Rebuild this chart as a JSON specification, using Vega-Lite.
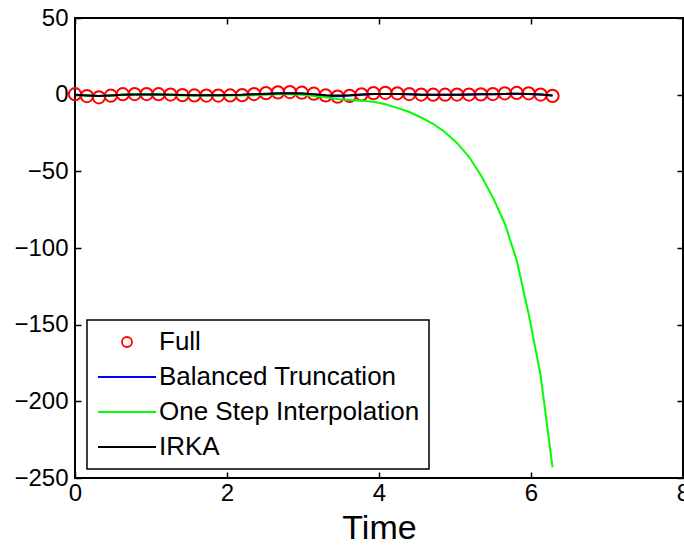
{
  "$schema": "https://vega.github.io/schema/vega-lite/v6.json",
  "width": 608,
  "height": 460,
  "autosize": {"type": "none"},
  "padding": {"left": 75, "top": 18, "right": 1, "bottom": 68},
  "background": "white",
  "title": {"text": "Reduced Model Output 1, Order 10, Step", "font": "Liberation Sans", "fontSize": 26, "fontWeight": "normal", "color": "black", "baseline": "alphabetic", "offset": 20, "frame": "group", "anchor": "middle"},
  "data": {"values": [
    {"t": 0, "Full": 0.3, "Balanced Truncation": 0.0, "One Step Interpolation": 0.0, "IRKA": 0.0},
    {"t": 0.1571, "Full": -0.9, "Balanced Truncation": -0.5, "One Step Interpolation": -0.5, "IRKA": -0.5},
    {"t": 0.3142, "Full": -1.7, "Balanced Truncation": -0.9, "One Step Interpolation": -0.9, "IRKA": -0.9},
    {"t": 0.4712, "Full": -0.7, "Balanced Truncation": -0.5, "One Step Interpolation": -0.5, "IRKA": -0.5},
    {"t": 0.6283, "Full": 0.3, "Balanced Truncation": 0.0, "One Step Interpolation": 0.0, "IRKA": 0.0},
    {"t": 0.7854, "Full": 0.4, "Balanced Truncation": 0.1, "One Step Interpolation": 0.1, "IRKA": 0.1},
    {"t": 0.9425, "Full": 0.4, "Balanced Truncation": 0.1, "One Step Interpolation": 0.1, "IRKA": 0.1},
    {"t": 1.0996, "Full": 0.3, "Balanced Truncation": 0.1, "One Step Interpolation": 0.0, "IRKA": 0.1},
    {"t": 1.2566, "Full": 0.1, "Balanced Truncation": 0.0, "One Step Interpolation": -0.2, "IRKA": 0.0},
    {"t": 1.4137, "Full": -0.3, "Balanced Truncation": -0.2, "One Step Interpolation": -0.5, "IRKA": -0.2},
    {"t": 1.5708, "Full": -0.5, "Balanced Truncation": -0.3, "One Step Interpolation": -0.6, "IRKA": -0.3},
    {"t": 1.7279, "Full": -0.6, "Balanced Truncation": -0.3, "One Step Interpolation": -0.6, "IRKA": -0.3},
    {"t": 1.885, "Full": -0.6, "Balanced Truncation": -0.3, "One Step Interpolation": -0.6, "IRKA": -0.3},
    {"t": 2.042, "Full": -0.5, "Balanced Truncation": -0.2, "One Step Interpolation": -0.6, "IRKA": -0.2},
    {"t": 2.1991, "Full": -0.3, "Balanced Truncation": -0.1, "One Step Interpolation": -0.6, "IRKA": -0.1},
    {"t": 2.3562, "Full": 0.4, "Balanced Truncation": 0.2, "One Step Interpolation": -0.3, "IRKA": 0.2},
    {"t": 2.5133, "Full": 1.0, "Balanced Truncation": 0.6, "One Step Interpolation": 0.0, "IRKA": 0.5},
    {"t": 2.6704, "Full": 1.5, "Balanced Truncation": 0.9, "One Step Interpolation": 0.3, "IRKA": 0.8},
    {"t": 2.8274, "Full": 1.7, "Balanced Truncation": 1.0, "One Step Interpolation": 0.3, "IRKA": 0.9},
    {"t": 2.9845, "Full": 1.3, "Balanced Truncation": 0.7, "One Step Interpolation": -0.1, "IRKA": 0.7},
    {"t": 3.1416, "Full": 0.6, "Balanced Truncation": 0.1, "One Step Interpolation": -0.8, "IRKA": 0.3},
    {"t": 3.2987, "Full": -0.5, "Balanced Truncation": -0.6, "One Step Interpolation": -1.7, "IRKA": -0.3},
    {"t": 3.4558, "Full": -1.3, "Balanced Truncation": -1.0, "One Step Interpolation": -2.8, "IRKA": -0.6},
    {"t": 3.6128, "Full": -0.8, "Balanced Truncation": -0.6, "One Step Interpolation": -3.4, "IRKA": -0.4},
    {"t": 3.7699, "Full": 0.2, "Balanced Truncation": 0.0, "One Step Interpolation": -3.9, "IRKA": 0.1},
    {"t": 3.927, "Full": 1.0, "Balanced Truncation": 0.4, "One Step Interpolation": -4.6, "IRKA": 0.4},
    {"t": 4.0841, "Full": 1.2, "Balanced Truncation": 0.5, "One Step Interpolation": -6.2, "IRKA": 0.5},
    {"t": 4.2412, "Full": 0.9, "Balanced Truncation": 0.4, "One Step Interpolation": -8.6, "IRKA": 0.4},
    {"t": 4.3982, "Full": 0.4, "Balanced Truncation": 0.2, "One Step Interpolation": -11.3, "IRKA": 0.2},
    {"t": 4.5553, "Full": 0.1, "Balanced Truncation": 0.0, "One Step Interpolation": -14.9, "IRKA": 0.0},
    {"t": 4.7124, "Full": 0.0, "Balanced Truncation": 0.0, "One Step Interpolation": -19.0, "IRKA": 0.0},
    {"t": 4.8695, "Full": 0.0, "Balanced Truncation": 0.0, "One Step Interpolation": -24.5, "IRKA": 0.0},
    {"t": 5.0265, "Full": 0.1, "Balanced Truncation": 0.0, "One Step Interpolation": -31.5, "IRKA": 0.0},
    {"t": 5.1836, "Full": 0.1, "Balanced Truncation": 0.1, "One Step Interpolation": -40.5, "IRKA": 0.1},
    {"t": 5.3407, "Full": 0.2, "Balanced Truncation": 0.2, "One Step Interpolation": -52.5, "IRKA": 0.2},
    {"t": 5.4978, "Full": 0.4, "Balanced Truncation": 0.3, "One Step Interpolation": -67.0, "IRKA": 0.3},
    {"t": 5.6549, "Full": 0.9, "Balanced Truncation": 0.5, "One Step Interpolation": -84.0, "IRKA": 0.5},
    {"t": 5.812, "Full": 1.1, "Balanced Truncation": 0.6, "One Step Interpolation": -108.0, "IRKA": 0.6},
    {"t": 5.969, "Full": 0.9, "Balanced Truncation": 0.5, "One Step Interpolation": -143.0, "IRKA": 0.5},
    {"t": 6.1261, "Full": 0.1, "Balanced Truncation": 0.1, "One Step Interpolation": -183.0, "IRKA": 0.1},
    {"t": 6.2832, "Full": -0.8, "Balanced Truncation": -0.5, "One Step Interpolation": -243.0, "IRKA": -0.5}
  ]},
  "transform": [
    {"fold": ["Full", "Balanced Truncation", "One Step Interpolation", "IRKA"], "as": ["series", "value"]}
  ],
  "layer": [
    {
      "transform": [{"filter": "datum.series === 'Full'"}],
      "mark": {"type": "point", "filled": false, "size": 150, "strokeWidth": 2, "opacity": 1},
      "encoding": {
        "x": {"field": "t", "type": "quantitative", "scale": {"domain": [0, 8], "nice": false, "zero": false},
              "axis": {"values": [0, 2, 4, 6, 8], "title": "Time", "tickSize": -6, "labelPadding": 9, "titlePadding": 6, "labelFlush": false}},
        "y": {"field": "value", "type": "quantitative", "scale": {"domain": [-250, 50], "nice": false, "zero": false},
              "axis": {"values": [-250, -200, -150, -100, -50, 0, 50], "title": null, "tickSize": -6, "labelPadding": 13}},
        "color": {"field": "series", "type": "nominal",
                  "scale": {"domain": ["Full", "Balanced Truncation", "One Step Interpolation", "IRKA"], "range": ["#ff0000", "#0000ff", "#00ff00", "#000000"]},
                  "legend": {"title": null}},
        "shape": {"field": "series", "type": "nominal",
                  "scale": {"domain": ["Full", "Balanced Truncation", "One Step Interpolation", "IRKA"], "range": ["circle", "M-5.8,0H5.8", "M-5.8,0H5.8", "M-5.8,0H5.8"]},
                  "legend": {"title": null}}
      }
    },
    {
      "transform": [{"filter": "datum.series === 'Balanced Truncation'"}],
      "mark": {"type": "line", "strokeWidth": 2},
      "encoding": {
        "x": {"field": "t", "type": "quantitative", "axis": null},
        "y": {"field": "value", "type": "quantitative", "axis": null},
        "color": {"field": "series", "type": "nominal", "legend": {"title": null}}
      }
    },
    {
      "transform": [{"filter": "datum.series === 'One Step Interpolation'"}],
      "mark": {"type": "line", "strokeWidth": 2},
      "encoding": {
        "x": {"field": "t", "type": "quantitative", "axis": null},
        "y": {"field": "value", "type": "quantitative", "axis": null},
        "color": {"field": "series", "type": "nominal", "legend": {"title": null}}
      }
    },
    {
      "transform": [{"filter": "datum.series === 'IRKA'"}],
      "mark": {"type": "line", "strokeWidth": 2},
      "encoding": {
        "x": {"field": "t", "type": "quantitative", "axis": null},
        "y": {"field": "value", "type": "quantitative", "axis": null},
        "color": {"field": "series", "type": "nominal", "legend": {"title": null}}
      }
    },
    {
      "transform": [{"filter": "datum.series === 'Full'"}],
      "mark": {"type": "point", "opacity": 0},
      "encoding": {
        "x": {"field": "t", "type": "quantitative",
              "axis": {"orient": "top", "values": [0, 2, 4, 6, 8], "labels": false, "title": null, "tickSize": -6}},
        "y": {"field": "value", "type": "quantitative",
              "axis": {"orient": "right", "values": [-250, -200, -150, -100, -50, 0, 50], "labels": false, "title": null, "tickSize": -6}}
      }
    }
  ],
  "resolve": {"axis": {"x": "independent", "y": "independent"}},
  "config": {
    "view": {"stroke": "black", "strokeWidth": 2},
    "font": "Liberation Sans",
    "axis": {
      "domain": false, "grid": false,
      "tickColor": "black", "tickWidth": 1.5,
      "labelFont": "Liberation Sans", "labelFontSize": 24, "labelColor": "black",
      "titleFont": "Liberation Sans", "titleFontSize": 34, "titleFontWeight": "normal", "titleColor": "black"
    },
    "legend": {
      "orient": "none", "legendX": 12, "legendY": 302,
      "padding": 9, "rowPadding": 9,
      "strokeColor": "black", "strokeWidth": 1.5, "fillColor": "white", "cornerRadius": 0,
      "labelFont": "Liberation Sans", "labelFontSize": 26, "labelColor": "black", "labelLimit": 400,
      "symbolSize": 100, "symbolStrokeWidth": 1.8, "symbolOffset": 18, "labelOffset": 19
    }
  }
}
